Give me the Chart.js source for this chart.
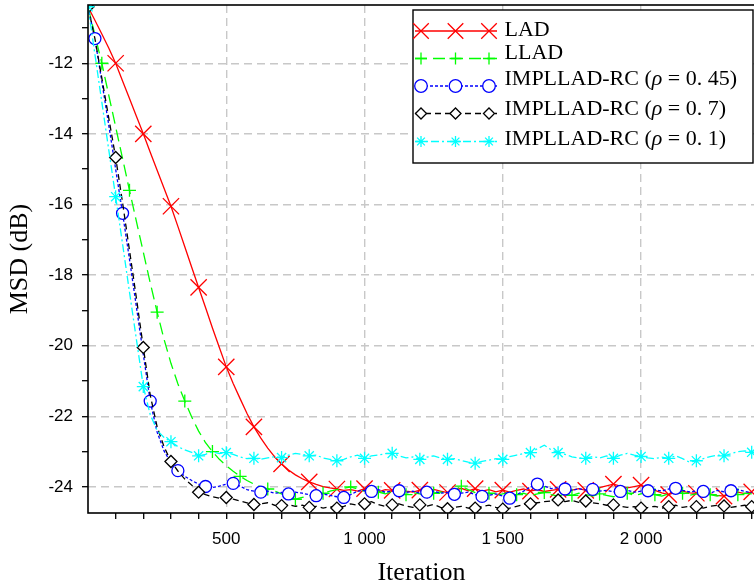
<!DOCTYPE html>
<html>
<head>
<meta charset="utf-8">
<script src="https://cdn.jsdelivr.net/npm/chart.js@4.4.1/dist/chart.umd.min.js"></script>
<style>
  html, body { margin: 0; padding: 0; overflow: hidden; background: #fff; }
  #wrap { width: 760px; height: 587px; }
</style>
</head>
<body>
<div id="wrap"><canvas id="c" width="760" height="587"></canvas></div>
<script>
// ---------------- data ----------------
const iterations = [];
for (let it = 0; it <= 2400; it += 25) iterations.push(it);

const lad = [
  -10.40,-10.78,-11.17,-11.57,-12.00,-12.50,-13.00,-13.50,
  -14.00,-14.52,-15.03,-15.54,-16.05,-16.62,-17.20,-17.78,
  -18.35,-18.92,-19.50,-20.05,-20.60,-21.07,-21.50,-21.92,
  -22.30,-22.62,-22.90,-23.15,-23.35,-23.52,-23.66,-23.77,
  -23.86,-23.93,-23.99,-24.03,-24.06,-24.10,-24.08,-24.12,
  -24.05,-24.10,-24.14,-24.08,-24.10,-24.05,-24.12,-24.15,
  -24.09,-24.13,-24.07,-24.12,-24.16,-24.10,-24.04,-24.11,
  -24.05,-24.12,-24.08,-24.14,-24.09,-24.15,-24.10,-24.06,
  -24.12,-24.08,-24.13,-24.10,-24.07,-24.12,-24.09,-24.05,
  -24.10,-24.06,-24.02,-23.97,-23.92,-23.98,-24.03,-23.99,
  -23.95,-24.04,-24.10,-24.17,-24.22,-24.15,-24.12,-24.17,
  -24.18,-24.13,-24.20,-24.24,-24.26,-24.20,-24.15,-24.19,
  -24.14
];
const llad = [
  -10.40,-11.20,-12.00,-12.90,-13.80,-14.70,-15.60,-16.48,
  -17.35,-18.22,-19.05,-19.82,-20.50,-21.08,-21.57,-22.02,
  -22.42,-22.75,-23.00,-23.22,-23.40,-23.56,-23.70,-23.82,
  -23.92,-24.00,-24.06,-24.12,-24.20,-24.28,-24.35,-24.30,
  -24.25,-24.22,-24.18,-24.12,-24.08,-24.04,-24.00,-24.06,
  -24.12,-24.08,-24.15,-24.20,-24.14,-24.18,-24.22,-24.16,
  -24.20,-24.25,-24.18,-24.14,-24.20,-24.10,-23.98,-24.08,
  -24.16,-24.22,-24.18,-24.24,-24.20,-24.15,-24.22,-24.18,
  -24.25,-24.20,-24.16,-24.22,-24.26,-24.20,-24.24,-24.18,
  -24.22,-24.26,-24.20,-24.24,-24.28,-24.22,-24.18,-24.24,
  -24.20,-24.16,-24.22,-24.26,-24.20,-24.14,-24.18,-24.24,
  -24.20,-24.16,-24.22,-24.26,-24.20,-24.18,-24.22,-24.18,
  -24.20
];
const rc045 = [
  -10.40,-11.30,-12.52,-13.75,-15.00,-16.25,-17.55,-18.90,
  -20.25,-21.57,-22.45,-22.98,-23.32,-23.54,-23.70,-23.82,
  -23.92,-23.99,-24.02,-23.98,-23.92,-23.90,-23.98,-24.08,
  -24.12,-24.15,-24.12,-24.18,-24.16,-24.20,-24.15,-24.18,
  -24.22,-24.25,-24.20,-24.24,-24.28,-24.30,-24.22,-24.12,
  -24.10,-24.13,-24.08,-24.15,-24.12,-24.11,-24.16,-24.12,
  -24.18,-24.15,-24.12,-24.18,-24.16,-24.21,-24.18,-24.15,
  -24.22,-24.27,-24.24,-24.20,-24.26,-24.32,-24.22,-24.12,
  -24.00,-23.92,-23.98,-24.05,-24.02,-24.06,-24.10,-24.05,
  -24.09,-24.07,-24.12,-24.10,-24.14,-24.13,-24.10,-24.15,
  -24.12,-24.11,-24.08,-24.12,-24.06,-24.04,-24.10,-24.14,
  -24.12,-24.13,-24.18,-24.10,-24.14,-24.11,-24.08,-24.13,
  -24.16
];
const rc07 = [
  -10.40,-11.30,-12.42,-13.55,-14.67,-15.95,-17.30,-18.65,
  -20.05,-21.40,-22.30,-22.86,-23.28,-23.55,-23.78,-23.95,
  -24.15,-24.22,-24.28,-24.32,-24.30,-24.35,-24.40,-24.45,
  -24.50,-24.48,-24.45,-24.52,-24.53,-24.50,-24.55,-24.52,
  -24.58,-24.55,-24.60,-24.56,-24.60,-24.55,-24.48,-24.52,
  -24.48,-24.42,-24.50,-24.55,-24.51,-24.48,-24.54,-24.58,
  -24.51,-24.55,-24.50,-24.58,-24.62,-24.58,-24.55,-24.60,
  -24.60,-24.56,-24.52,-24.58,-24.63,-24.60,-24.55,-24.50,
  -24.48,-24.45,-24.42,-24.40,-24.37,-24.42,-24.38,-24.44,
  -24.40,-24.45,-24.48,-24.52,-24.51,-24.55,-24.58,-24.56,
  -24.60,-24.58,-24.55,-24.60,-24.56,-24.52,-24.58,-24.55,
  -24.56,-24.60,-24.55,-24.52,-24.54,-24.58,-24.55,-24.52,
  -24.56
];
const rc01 = [
  -10.40,-11.75,-13.10,-14.45,-15.78,-17.12,-18.48,-19.82,
  -21.16,-21.95,-22.40,-22.60,-22.72,-22.86,-22.95,-23.02,
  -23.12,-23.08,-23.00,-23.06,-23.03,-23.08,-23.15,-23.20,
  -23.19,-23.22,-23.18,-23.14,-23.17,-23.10,-23.05,-23.08,
  -23.12,-23.10,-23.18,-23.22,-23.26,-23.22,-23.15,-23.10,
  -23.19,-23.12,-23.10,-23.06,-23.05,-23.12,-23.18,-23.15,
  -23.22,-23.16,-23.12,-23.18,-23.22,-23.20,-23.25,-23.30,
  -23.33,-23.28,-23.24,-23.20,-23.22,-23.14,-23.10,-23.06,
  -23.03,-22.92,-22.82,-22.95,-23.03,-23.08,-23.15,-23.18,
  -23.19,-23.14,-23.18,-23.12,-23.19,-23.10,-23.05,-23.10,
  -23.14,-23.18,-23.20,-23.16,-23.19,-23.12,-23.20,-23.30,
  -23.26,-23.20,-23.14,-23.10,-23.12,-23.06,-23.00,-22.98,
  -23.02
];

const seriesLabels = ['LAD', 'LLAD', 'IMPLLAD-RC (ρ = 0. 45)', 'IMPLLAD-RC (ρ = 0. 7)', 'IMPLLAD-RC (ρ = 0. 1)'];
const xTickValues = [100,200,300,400,500,600,700,800,900,1000,1100,1200,1300,1400,1500,1600,1700,1800,1900,2000,2100,2200,2300,2400];
const xLabelValues = [500, 1000, 1500, 2000];
const yTickValues = [-24,-23,-22,-21,-20,-19,-18,-17,-16,-15,-14,-13,-12,-11];
const yLabelValues = [-24,-22,-20,-18,-16,-14,-12];

// ---------------- styles ----------------
const styles = [
  { color: '#ff0000', dash: [],            marker: 'crossRot', r: 11.5,lr: 11, off: 0,  zero: false, width: 1.3 },
  { color: '#00ff00', dash: [12, 6],       marker: 'cross',    r: 6.5, lr: 6,  off: 50, zero: false, width: 1.3 },
  { color: '#0000ff', dash: [3, 2],        marker: 'circle',   r: 6,   lr: 6.3,off: 25, zero: false, width: 1.3 },
  { color: '#000000', dash: [6, 4],        marker: 'rectRot',  r: 6,   lr: 5.5,off: 0,  zero: true,  width: 1.3 },
  { color: '#00ffff', dash: [8, 3, 2, 3],  marker: 'star',     r: 6.5, lr: 5.5,off: 0,  zero: true,  width: 1.3 }
];
const seriesValues = [lad, llad, rc045, rc07, rc01];

const datasets = seriesValues.map((vals, i) => {
  const s = styles[i];
  const radiusFn = (ctx) => {
    const it = iterations[ctx.dataIndex];
    if (it === undefined) return 0;
    const on = ((it - s.off) % 100 === 0) && (it > 0 || s.zero);
    return on ? s.r : 0;
  };
  return {
    label: seriesLabels[i],
    data: iterations.map((x, k) => ({ x: x, y: vals[k] })),
    borderColor: s.color,
    borderWidth: s.width,
    borderDash: s.dash,
    pointStyle: s.marker,
    pointRadius: radiusFn,
    pointHoverRadius: radiusFn,
    pointBorderColor: s.color,
    pointBackgroundColor: '#ffffff',
    pointBorderWidth: 1.3,
    tension: 0,
    fill: false,
    order: 5 - i
  };
});

// ---------------- helpers ----------------
function drawMarker(ctx, style, x, y, r) {
  ctx.beginPath();
  const q = Math.SQRT1_2 * r;
  if (style === 'crossRot') {
    ctx.moveTo(x - q, y - q); ctx.lineTo(x + q, y + q);
    ctx.moveTo(x - q, y + q); ctx.lineTo(x + q, y - q);
    ctx.stroke();
  } else if (style === 'cross') {
    ctx.moveTo(x - r, y); ctx.lineTo(x + r, y);
    ctx.moveTo(x, y - r); ctx.lineTo(x, y + r);
    ctx.stroke();
  } else if (style === 'circle') {
    ctx.arc(x, y, r, 0, Math.PI * 2);
    ctx.fill(); ctx.stroke();
  } else if (style === 'rectRot') {
    ctx.moveTo(x - r, y); ctx.lineTo(x, y - r); ctx.lineTo(x + r, y); ctx.lineTo(x, y + r);
    ctx.closePath(); ctx.fill(); ctx.stroke();
  } else if (style === 'star') {
    ctx.moveTo(x - r, y); ctx.lineTo(x + r, y);
    ctx.moveTo(x, y - r); ctx.lineTo(x, y + r);
    ctx.moveTo(x - q, y - q); ctx.lineTo(x + q, y + q);
    ctx.moveTo(x - q, y + q); ctx.lineTo(x + q, y - q);
    ctx.stroke();
  }
}

const framePlugin = {
  id: 'frame',
  afterDatasetsDraw(chart) {
    const { ctx, chartArea: a } = chart;
    ctx.save();
    ctx.strokeStyle = '#000';
    ctx.lineWidth = 1.6;
    ctx.setLineDash([]);
    ctx.strokeRect(a.left, a.top, a.right - a.left, a.bottom - a.top);
    ctx.restore();
  }
};

const legendBox = { x: 413, y: 10, w: 340, h: 153 };
const legendRowY = [31, 58.5, 86, 113.5, 141.5];
const legendTextY = [35.5, 59, 85, 114.5, 144.5];
const legendMarkX = [421, 455.5, 489];

const legendPlugin = {
  id: 'boxLegend',
  afterDraw(chart) {
    const ctx = chart.ctx;
    ctx.save();
    ctx.setLineDash([]);
    ctx.fillStyle = '#ffffff';
    ctx.fillRect(legendBox.x, legendBox.y, legendBox.w, legendBox.h);
    ctx.strokeStyle = '#000';
    ctx.lineWidth = 1.4;
    ctx.strokeRect(legendBox.x, legendBox.y, legendBox.w, legendBox.h);
    chart.data.datasets.forEach((ds, i) => {
      const s = styles[i];
      const y = legendRowY[i];
      ctx.strokeStyle = s.color;
      ctx.lineWidth = s.width;
      ctx.setLineDash(s.dash);
      ctx.beginPath();
      ctx.moveTo(legendBox.x + 2, y);
      ctx.lineTo(legendBox.x + 84, y);
      ctx.stroke();
      ctx.setLineDash([]);
      ctx.fillStyle = '#ffffff';
      ctx.lineWidth = 1.3;
      legendMarkX.forEach(mx => drawMarker(ctx, s.marker, mx, y, s.lr));
      // text
      ctx.fillStyle = '#000';
      ctx.textBaseline = 'alphabetic';
      ctx.textAlign = 'left';
      const parts = ds.label.split('ρ');
      let tx = 504.5;
      const ty = legendTextY[i];
      parts.forEach((p, k) => {
        if (k > 0) {
          ctx.font = 'italic 22px "Liberation Serif"';
          ctx.fillText('ρ', tx, ty);
          tx += ctx.measureText('ρ').width;
        }
        ctx.font = '22px "Liberation Serif"';
        ctx.fillText(p, tx, ty);
        tx += ctx.measureText(p).width;
      });
    });
    ctx.restore();
  }
};

// ---------------- chart ----------------
const gridGray = '#c8c8c8';
const tickFont = { family: '"Liberation Sans", Arial, sans-serif', size: 17 };
const titleFont = { family: '"Liberation Serif", serif', size: 26 };

function fmtThousands(v) {
  if (v >= 1000) {
    const th = Math.floor(v / 1000);
    const rest = String(v % 1000).padStart(3, '0');
    return th + ' ' + rest;
  }
  return String(v);
}

function zeroPad(scale) {
  scale.paddingTop = 0;
  scale.paddingBottom = 0;
  scale.paddingLeft = 0;
  scale.paddingRight = 0;
}

new Chart(document.getElementById('c'), {
  type: 'line',
  data: { datasets: datasets },
  options: {
    responsive: false,
    animation: false,
    devicePixelRatio: 1,
    events: [],
    layout: { autoPadding: false, padding: { top: 5, right: 5, left: 0, bottom: 0 } },
    plugins: { legend: { display: false }, tooltip: { enabled: false } },
    scales: {
      x: {
        type: 'linear',
        min: 0,
        max: 2412,
        afterBuildTicks: (axis) => { axis.ticks = xTickValues.map(v => ({ value: v })); },
        afterFit: (scale) => { scale.height = 74; zeroPad(scale); },
        ticks: {
          autoSkip: false,
          maxRotation: 0,
          padding: 10,
          color: '#000',
          font: tickFont,
          callback: (v) => xLabelValues.includes(v) ? fmtThousands(v) : ''
        },
        grid: {
          color: (c) => (c.tick && xLabelValues.includes(c.tick.value)) ? gridGray : 'rgba(0,0,0,0)',
          lineWidth: 1.4,
          tickColor: '#000',
          tickWidth: 1.3,
          tickLength: 6,
          tickBorderDash: []
        },
        border: { display: false, dash: [8, 5] },
        title: {
          display: true,
          text: 'Iteration',
          color: '#000',
          font: titleFont,
          padding: { top: 0, bottom: -2 }
        }
      },
      y: {
        type: 'linear',
        min: -24.74,
        max: -10.35,
        afterBuildTicks: (axis) => { axis.ticks = yTickValues.map(v => ({ value: v })); },
        afterFit: (scale) => { scale.width = 88; zeroPad(scale); },
        ticks: {
          autoSkip: false,
          padding: 9,
          color: '#000',
          font: tickFont,
          callback: (v) => yLabelValues.includes(v) ? String(v) : ''
        },
        grid: {
          color: (c) => (c.tick && yLabelValues.includes(c.tick.value)) ? gridGray : 'rgba(0,0,0,0)',
          lineWidth: 1.4,
          tickColor: '#000',
          tickWidth: 1.3,
          tickLength: 6,
          tickBorderDash: []
        },
        border: { display: false, dash: [8, 5] },
        title: {
          display: true,
          text: 'MSD (dB)',
          color: '#000',
          font: titleFont,
          padding: { top: 5, bottom: 0 }
        }
      }
    }
  },
  plugins: [framePlugin, legendPlugin]
});
</script>
</body>
</html>
